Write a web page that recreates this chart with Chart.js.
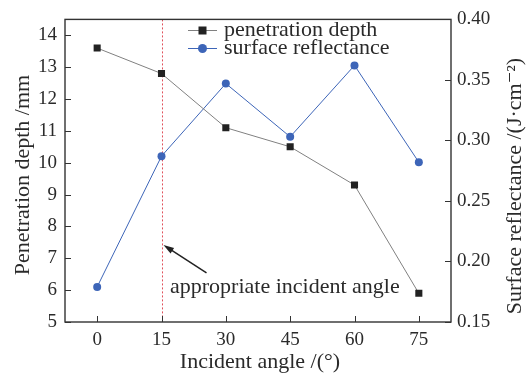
<!DOCTYPE html>
<html>
<head>
<meta charset="utf-8">
<script src="https://cdn.jsdelivr.net/npm/chart.js@4.4.1/dist/chart.umd.min.js"></script>
<style>
  html, body { margin: 0; padding: 0; background: #fff; }
</style>
</head>
<body>
<canvas id="chart" width="532" height="379"></canvas>
<script>
// --- data ---
const angles = [0, 15, 30, 45, 60, 75];
const depth = [13.6, 12.8, 11.1, 10.5, 9.3, 5.9];
const reflectance = [0.179, 0.287, 0.347, 0.303, 0.362, 0.282];
const xTicks = [0, 15, 30, 45, 60, 75];
const yLeftTicks = [5, 6, 7, 8, 9, 10, 11, 12, 13, 14];
const yRightTicks = [0.15, 0.20, 0.25, 0.30, 0.35, 0.40];
const markAngle = 15;

const FONT = "'Liberation Serif', 'DejaVu Serif', serif";
const TXT = '#2a2a2a';
const GREY = '#808080';
const BLUE = '#3d65b8';

// frame, inward ticks, axis titles, legend, marker line + arrow
const decor = {
    id: 'decor',
    beforeDatasetsDraw(chart) {
        const { ctx, chartArea: a, scales } = chart;
        ctx.save();
        // dotted red line at appropriate angle
        const xm = Math.round(scales.x.getPixelForValue(markAngle));
        ctx.strokeStyle = '#e0505a';
        ctx.lineWidth = 1;
        ctx.setLineDash([2, 2]);
        ctx.beginPath();
        ctx.moveTo(xm + 0.5, a.top);
        ctx.lineTo(xm + 0.5, a.bottom);
        ctx.stroke();
        ctx.restore();
    },
    afterDraw(chart) {
        const { ctx, chartArea: a, scales } = chart;
        ctx.save();
        ctx.strokeStyle = '#333';
        ctx.lineWidth = 1.4;
        ctx.strokeRect(a.left, a.top, a.right - a.left, a.bottom - a.top);

        // inward ticks
        ctx.lineWidth = 1;
        ctx.beginPath();
        xTicks.forEach(v => {
            const x = Math.round(scales.x.getPixelForValue(v)) + 0.5;
            ctx.moveTo(x, a.bottom); ctx.lineTo(x, a.bottom - 6);
        });
        yLeftTicks.forEach(v => {
            const y = Math.round(scales.y.getPixelForValue(v)) + 0.5;
            ctx.moveTo(a.left, y); ctx.lineTo(a.left + 6, y);
        });
        yRightTicks.forEach(v => {
            const y = Math.round(scales.y1.getPixelForValue(v)) + 0.5;
            ctx.moveTo(a.right, y); ctx.lineTo(a.right - 6, y);
        });
        ctx.stroke();

        // axis titles
        ctx.fillStyle = TXT;
        ctx.font = `22px ${FONT}`;
        ctx.textAlign = 'center';
        ctx.textBaseline = 'middle';
        ctx.fillText('Incident angle /(°)', (a.left + a.right) / 2 + 2, 362);
        ctx.save();
        ctx.translate(23, 175);
        ctx.rotate(-Math.PI / 2);
        ctx.fillText('Penetration depth /mm', 0, 0);
        ctx.restore();
        ctx.save();
        ctx.translate(515, 186);
        ctx.rotate(-Math.PI / 2);
        ctx.fillText('Surface reflectance /(J·cm⁻²)', 0, 0);
        ctx.restore();

        // arrow + label
        const tipX = scales.x.getPixelForValue(markAngle) + 2;
        const tipY = scales.y.getPixelForValue(7.42);
        const tailX = tipX + 43, tailY = tipY + 28;
        ctx.strokeStyle = '#222';
        ctx.fillStyle = '#222';
        ctx.lineWidth = 1.5;
        ctx.beginPath();
        ctx.moveTo(tailX, tailY);
        ctx.lineTo(tipX + 6, tipY + 4);
        ctx.stroke();
        const ang = Math.atan2(tailY - tipY, tailX - tipX);
        ctx.beginPath();
        ctx.moveTo(tipX, tipY);
        ctx.lineTo(tipX + 11 * Math.cos(ang - 0.3), tipY + 11 * Math.sin(ang - 0.3));
        ctx.lineTo(tipX + 11 * Math.cos(ang + 0.3), tipY + 11 * Math.sin(ang + 0.3));
        ctx.closePath();
        ctx.fill();

        ctx.fillStyle = TXT;
        ctx.textAlign = 'left';
        ctx.fillText('appropriate incident angle', 170, 287);

        // legend
        const items = [
            { label: 'penetration depth', line: GREY, fill: '#222', shape: 'rect', y: 30 },
            { label: 'surface reflectance', line: BLUE, fill: BLUE, shape: 'circle', y: 48 },
        ];
        items.forEach(it => {
            ctx.strokeStyle = it.line;
            ctx.lineWidth = 1;
            ctx.beginPath();
            ctx.moveTo(188, it.y + 0.5); ctx.lineTo(217, it.y + 0.5);
            ctx.stroke();
            ctx.fillStyle = it.fill;
            if (it.shape === 'rect') {
                ctx.fillRect(198.5, it.y - 3.5, 8, 8);
            } else {
                ctx.beginPath();
                ctx.arc(202.5, it.y + 0.5, 4.5, 0, Math.PI * 2);
                ctx.fill();
            }
            ctx.fillStyle = TXT;
            ctx.fillText(it.label, 224, it.y);
        });
        ctx.restore();
    }
};

const tickFont = { family: FONT, size: 19 };

new Chart(document.getElementById('chart'), {
    type: 'line',
    data: {
        datasets: [
            {
                label: 'penetration depth',
                data: angles.map((a, i) => ({ x: a, y: depth[i] })),
                yAxisID: 'y',
                borderColor: GREY,
                borderWidth: 1,
                pointStyle: 'rect',
                pointRadius: 5,
                pointBackgroundColor: '#222',
                pointBorderColor: '#222',
                pointBorderWidth: 0,
            },
            {
                label: 'surface reflectance',
                data: angles.map((a, i) => ({ x: a, y: reflectance[i] })),
                yAxisID: 'y1',
                borderColor: BLUE,
                borderWidth: 1,
                pointStyle: 'circle',
                pointRadius: 4,
                pointBackgroundColor: BLUE,
                pointBorderColor: BLUE,
                pointBorderWidth: 0,
            }
        ]
    },
    options: {
        responsive: false,
        animation: false,
        devicePixelRatio: 1,
        layout: { padding: { top: 13, left: 0, right: 0, bottom: 0 } },
        plugins: { legend: { display: false }, tooltip: { enabled: false } },
        scales: {
            x: {
                type: 'linear',
                min: -7.5, max: 82.5,
                afterBuildTicks: s => { s.ticks = xTicks.map(v => ({ value: v })); },
                afterFit: s => { s.height = 57; },
                grid: { display: false, drawTicks: false },
                border: { display: false },
                ticks: { color: TXT, font: tickFont, padding: 7, autoSkip: false, maxRotation: 0 }
            },
            y: {
                position: 'left',
                min: 5, max: 14.5,
                afterBuildTicks: s => { s.ticks = yLeftTicks.map(v => ({ value: v })); },
                afterFit: s => { s.width = 65; },
                grid: { display: false, drawTicks: false },
                border: { display: false },
                ticks: { color: TXT, font: tickFont, padding: 8, autoSkip: false }
            },
            y1: {
                position: 'right',
                min: 0.15, max: 0.40,
                afterBuildTicks: s => { s.ticks = yRightTicks.map(v => ({ value: v })); },
                afterFit: s => { s.width = 81; },
                grid: { display: false, drawTicks: false },
                border: { display: false },
                ticks: { color: TXT, font: tickFont, padding: 6, autoSkip: false, callback: v => v.toFixed(2) }
            }
        }
    },
    plugins: [decor]
});
</script>
</body>
</html>
